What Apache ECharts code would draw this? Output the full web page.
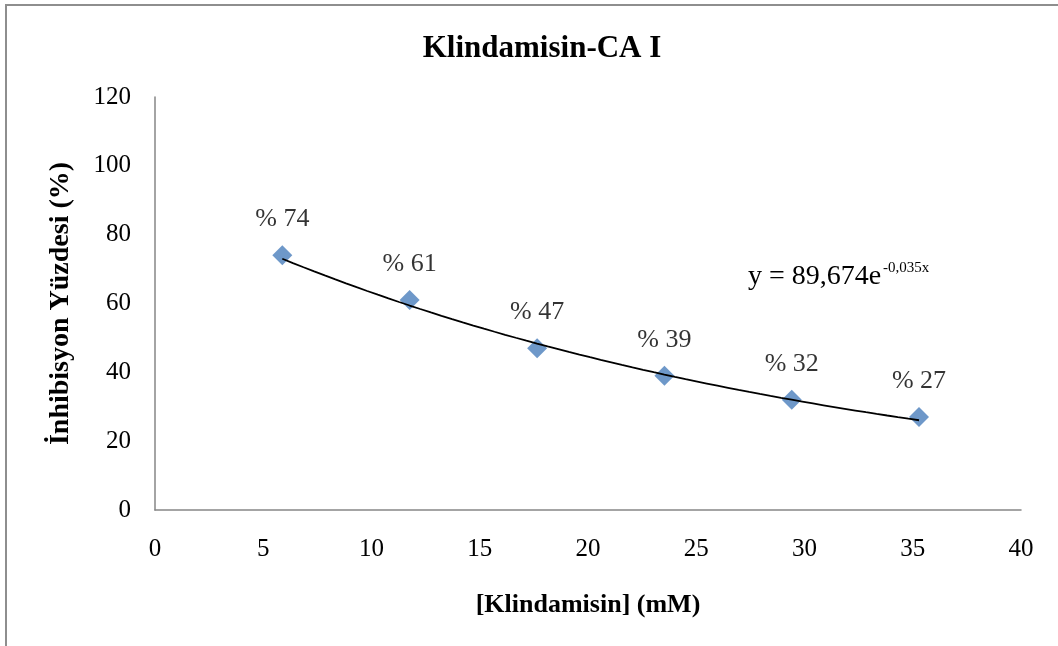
<!DOCTYPE html>
<html>
<head>
<meta charset="utf-8">
<script src="https://cdn.jsdelivr.net/npm/echarts@6/dist/echarts.min.js"></script>
<style>
  html, body { margin: 0; padding: 0; background: #fff; }
  #chart { width: 1058px; height: 646px; }
</style>
</head>
<body>
<div id="chart"></div>
<script>
// Clindamycin concentration (mM) and measured inhibition (%)
const concentrations = [5.88, 11.76, 17.65, 23.53, 29.41, 35.29];
const inhibition = [74, 61, 47, 39, 32, 27];
const xTicks = [0, 5, 10, 15, 20, 25, 30, 35, 40];
const yTicks = [0, 20, 40, 60, 80, 100, 120];

// Exponential trendline coefficients, y = a * e^(b x)
const fitA = 89.674;
const fitB = -0.035;

const trend = [];
const x0 = concentrations[0], x1 = concentrations[concentrations.length - 1];
for (let i = 0; i <= 60; i++) {
  const x = x0 + (x1 - x0) * i / 60;
  trend.push([x, fitA * Math.exp(fitB * x)]);
}

const serif = '"Liberation Serif", "Times New Roman", serif';
const axisGray = '#868686';

const chart = echarts.init(document.getElementById('chart'), null, { renderer: 'canvas' });
chart.setOption({
  animation: false,
  backgroundColor: '#fff',
  title: {
    text: 'Klindamisin-CA I',
    left: 537, top: 28, textAlign: 'center',
    textStyle: { fontFamily: serif, fontWeight: 'bold', fontSize: 31, color: '#000' }
  },
  grid: { left: 155, right: 37, top: 97, bottom: 136 },
  xAxis: {
    type: 'value', min: xTicks[0], max: xTicks[xTicks.length - 1], interval: 5,
    name: '[Klindamisin] (mM)', nameLocation: 'middle', nameGap: 82,
    nameTextStyle: { fontFamily: serif, fontWeight: 'bold', fontSize: 26, color: '#000' },
    axisLine: { show: true, lineStyle: { color: axisGray, width: 1.5 } },
    axisTick: { show: false },
    splitLine: { show: false },
    axisLabel: { fontFamily: serif, fontSize: 25, color: '#000', margin: 27 }
  },
  yAxis: {
    type: 'value', min: yTicks[0], max: yTicks[yTicks.length - 1], interval: 20,
    name: 'İnhibisyon Yüzdesi (%)', nameLocation: 'middle', nameGap: 80,
    nameTextStyle: { fontFamily: serif, fontWeight: 'bold', fontSize: 28, color: '#000' },
    axisLine: { show: true, lineStyle: { color: axisGray, width: 1.5 } },
    axisTick: { show: false },
    splitLine: { show: false },
    axisLabel: { fontFamily: serif, fontSize: 25, color: '#000', margin: 24 }
  },
  series: [
    {
      type: 'line',
      data: trend,
      showSymbol: false,
      smooth: false,
      lineStyle: { color: '#000', width: 1.8 },
      z: 3,
      silent: true
    },
    {
      type: 'scatter',
      data: concentrations.map((x, i) => [x, inhibition[i]]),
      symbol: 'diamond',
      symbolSize: [20, 20],
      itemStyle: { color: '#4a7ebb' },
      z: 2,
      label: {
        show: true, position: 'top', distance: 13,
        formatter: p => '% ' + p.value[1],
        fontFamily: serif, fontSize: 26, color: '#000'
      }
    }
  ],
  graphic: [
    {
      type: 'rect', silent: true,
      shape: { x: 6, y: 5, width: 1200, height: 800 },
      style: { fill: 'none', stroke: '#8e8e8e', lineWidth: 2 }
    },
    {
      type: 'text', left: 748, top: 263, silent: true,
      style: { text: 'y = 89,674e', font: '28px ' + serif, fill: '#000' }
    },
    {
      type: 'text', left: 883, top: 261, silent: true,
      style: { text: '-0,035x', font: '15px ' + serif, fill: '#000' }
    }
  ]
});
</script>
</body>
</html>
